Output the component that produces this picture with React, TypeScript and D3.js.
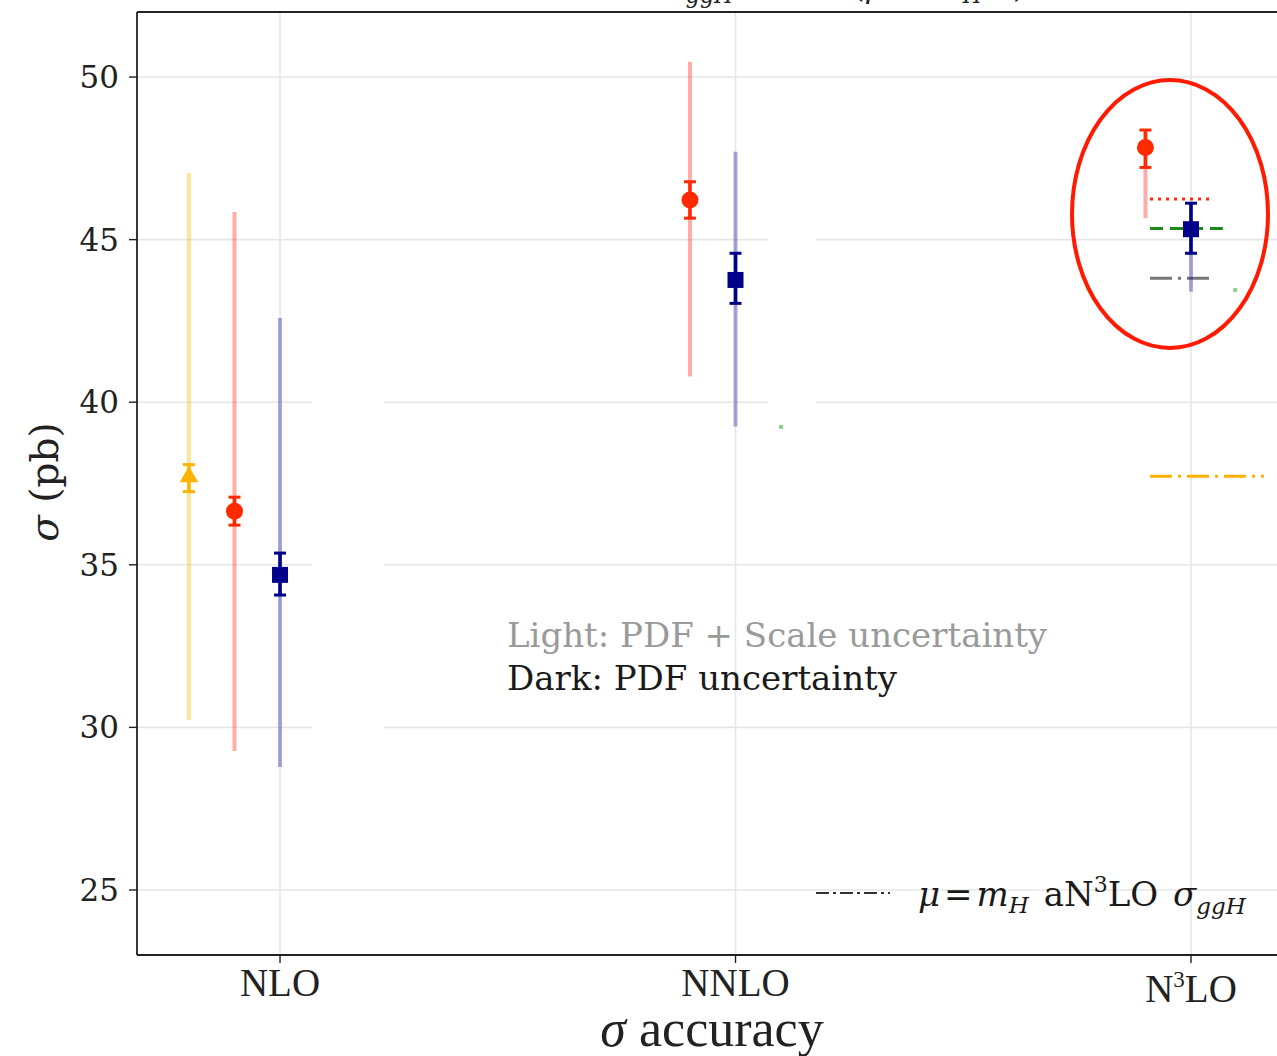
import React from "react";
import * as d3 from "d3";

// Perturbative orders on the x axis
const orders = ["NLO", "NNLO", "N3LO"];
const yTicks = [25, 30, 35, 40, 45, 50];

// Triangle series (NLO only)
const triIndex = [0];
const triCentral = [37.7];
const triPdfLo = [37.25];
const triPdfHi = [38.08];
const triTotLo = [30.23];
const triTotHi = [47.05];

// Circle series
const circIndex = [0, 1, 2];
const circCentral = [36.65, 46.22, 47.83];
const circPdfLo = [36.22, 45.66, 47.22];
const circPdfHi = [37.08, 46.78, 48.37];
const circTotLo = [29.27, 40.79, 45.66];
const circTotHi = [45.85, 50.47, 48.3];

// Square series
const sqIndex = [0, 1, 2];
const sqCentral = [34.69, 43.76, 45.32];
const sqPdfLo = [34.07, 43.04, 44.58];
const sqPdfHi = [35.36, 44.58, 46.12];
const sqTotLo = [28.78, 39.25, 43.4];
const sqTotHi = [42.59, 47.7, 46.1];

// Horizontal reference levels drawn next to the N3LO point
const refValues = [46.25, 45.34, 43.81, 37.72];
const refStart = [1.91, 1.91, 1.91, 1.91];
const refEnd = [2.04, 2.07, 2.04, 2.16];
const refColors = ["#ff2a1a", "#1a8a1a", "#777777", "#ffb000"];
const refDashes = ["3,5", "13,7", "22,6,3,6", "22,6,3,6"];

// Stray green ticks
const greenX = [1.1, 2.097];
const greenY = [39.24, 43.45];

const W = 1277;
const H = 1056;

const x = d3.scaleLinear().domain([-0.314, 2.314]).range([137, 1334]);
const y = d3.scaleLinear().domain([23, 52]).range([955, 12]);

const serif = "'DejaVu Serif', serif";
const condensed = "'Liberation Serif', serif";

function ErrorSeries({
  idx, offset, central, pdfLo, pdfHi, totLo, totHi, color, light, marker,
}: any) {
  return (
    <g>
      {idx.map((k: number, i: number) => {
        const cx = x(k + offset);
        const cy = y(central[i]);
        let mk;
        if (marker === "circle") mk = <circle cx={cx} cy={cy} r={8.5} fill={color} />;
        else if (marker === "square") mk = <rect x={cx - 8} y={cy - 8} width={16} height={16} fill={color} />;
        else {
          const tri = d3.symbol().type(d3.symbolTriangle).size(150)();
          mk = <path d={tri as string} transform={`translate(${cx},${cy})`} fill={color} />;
        }
        return (
          <g key={i}>
            <line x1={cx} x2={cx} y1={y(totLo[i])} y2={y(totHi[i])} stroke={light} strokeWidth={4} />
            <line x1={cx} x2={cx} y1={y(pdfLo[i])} y2={y(pdfHi[i])} stroke={color} strokeWidth={3.5} />
            <line x1={cx - 6} x2={cx + 6} y1={y(pdfLo[i])} y2={y(pdfLo[i])} stroke={color} strokeWidth={3} />
            <line x1={cx - 6} x2={cx + 6} y1={y(pdfHi[i])} y2={y(pdfHi[i])} stroke={color} strokeWidth={3} />
            {mk}
          </g>
        );
      })}
    </g>
  );
}

export default function App() {
  return (
    <svg
      width={W}
      height={H}
      style={{ position: "absolute", left: 0, top: 0, background: "#fff" }}
    >
      <rect x={0} y={0} width={W} height={H} fill="#fff" />
      {/* grid */}
      {yTicks.map((t) => (
        <line key={t} x1={137} x2={W} y1={y(t)} y2={y(t)} stroke="#e6e6e6" strokeWidth={1.6} />
      ))}
      {orders.map((o, i) => (
        <line key={o} x1={x(i)} x2={x(i)} y1={12} y2={955} stroke="#e6e6e6" strokeWidth={1.6} />
      ))}
      {/* blank panels over the grid */}
      <rect x={312} y={330} width={72} height={470} fill="#fff" />
      <rect x={768} y={165} width={48} height={305} fill="#fff" />

      {/* reference levels */}
      {refValues.map((v, i) => (
        <line
          key={i}
          x1={x(refStart[i])}
          x2={x(refEnd[i])}
          y1={y(v)}
          y2={y(v)}
          stroke={refColors[i]}
          strokeWidth={3}
          strokeDasharray={refDashes[i]}
        />
      ))}
      {greenX.map((gx, i) => (
        <rect key={i} x={x(gx) - 2} y={y(greenY[i]) - 2} width={4} height={4} fill="#8fd08f" />
      ))}

      <ErrorSeries
        idx={triIndex} offset={-0.2} central={triCentral} pdfLo={triPdfLo} pdfHi={triPdfHi}
        totLo={triTotLo} totHi={triTotHi} color="#ffb300" light="rgba(255,185,0,0.4)" marker="triangle"
      />
      <ErrorSeries
        idx={circIndex} offset={-0.1} central={circCentral} pdfLo={circPdfLo} pdfHi={circPdfHi}
        totLo={circTotLo} totHi={circTotHi} color="#ff2a00" light="rgba(255,60,50,0.42)" marker="circle"
      />
      <ErrorSeries
        idx={sqIndex} offset={0} central={sqCentral} pdfLo={sqPdfLo} pdfHi={sqPdfHi}
        totLo={sqTotLo} totHi={sqTotHi} color="#00008b" light="rgba(30,30,170,0.38)" marker="square"
      />

      {/* spines */}
      <line x1={137} x2={W} y1={12} y2={12} stroke="#222" strokeWidth={1.8} />
      <line x1={137} x2={W} y1={955} y2={955} stroke="#222" strokeWidth={1.8} />
      <line x1={137} x2={137} y1={12} y2={955} stroke="#222" strokeWidth={1.8} />

      {/* y ticks */}
      {yTicks.map((t) => (
        <g key={t}>
          <line x1={129} x2={137} y1={y(t)} y2={y(t)} stroke="#222" strokeWidth={1.4} />
          <text x={119} y={y(t) + 11} textAnchor="end" fontFamily={serif} fontSize={31} fill="#222">
            {t}
          </text>
        </g>
      ))}
      {/* x ticks */}
      {orders.map((o, i) => (
        <g key={o}>
          <line x1={x(i)} x2={x(i)} y1={955} y2={963} stroke="#222" strokeWidth={1.4} />
          <text
            x={x(i)}
            y={o === "N3LO" ? 1002 : 996}
            textAnchor="middle"
            fontFamily={condensed}
            fontSize={39}
            fill="#222"
          >
            {o === "N3LO" ? (
              <>
                N<tspan fontSize={23} dy={-15}>3</tspan>
                <tspan dy={15}>LO</tspan>
              </>
            ) : (
              o
            )}
          </text>
        </g>
      ))}

      {/* axis titles */}
      <text x={712} y={1046} textAnchor="middle" fontFamily={condensed} fontSize={52} fill="#222">
        <tspan fontStyle="italic">σ</tspan> accuracy
      </text>
      <text
        transform="translate(58,482) rotate(-90)"
        textAnchor="middle"
        fontFamily={serif}
        fontSize={39}
        fill="#222"
      >
        <tspan fontStyle="italic">σ</tspan> (pb)
      </text>

      {/* title, mostly above the visible area */}
      <text y={-3} fontFamily={serif} fontSize={32} fill="#222" fontStyle="italic">
        <tspan x={664}>σ</tspan>
        <tspan fontSize={22} dy={6}>ggH</tspan>
        <tspan x={852} dy={-6} fontStyle="normal">(</tspan>
        <tspan>μ = m</tspan>
        <tspan fontSize={22} dy={6}>H</tspan>
        <tspan dy={-6} fontStyle="normal">/2)</tspan>
      </text>

      {/* annotations */}
      <text x={507} y={647} fontFamily={serif} fontSize={34} fill="#9a9a9a">
        Light: PDF + Scale uncertainty
      </text>
      <text x={507} y={690} fontFamily={serif} fontSize={34} fill="#1a1a1a">
        Dark: PDF uncertainty
      </text>

      {/* legend entry */}
      <line x1={816} x2={890} y1={893} y2={893} stroke="#333" strokeWidth={2.2} strokeDasharray="13,4,3,4" />
      <text x={918} y={906} fontFamily={serif} fontSize={34} fill="#1a1a1a">
        <tspan fontStyle="italic">μ</tspan>
        <tspan dx={4}>=</tspan>
        <tspan dx={4} fontStyle="italic">m</tspan>
        <tspan fontStyle="italic" fontSize={23} dy={7}>H</tspan>
        <tspan dy={-7} dx={4}> aN</tspan>
        <tspan fontSize={22} dy={-14}>3</tspan>
        <tspan dy={14}>LO </tspan>
        <tspan fontStyle="italic" dx={4}>σ</tspan>
        <tspan fontStyle="italic" fontSize={23} dy={8}>ggH</tspan>
      </text>

      {/* highlight */}
      <ellipse cx={1170} cy={214} rx={98} ry={134} fill="none" stroke="#ff1a00" strokeWidth={4} />
    </svg>
  );
}
